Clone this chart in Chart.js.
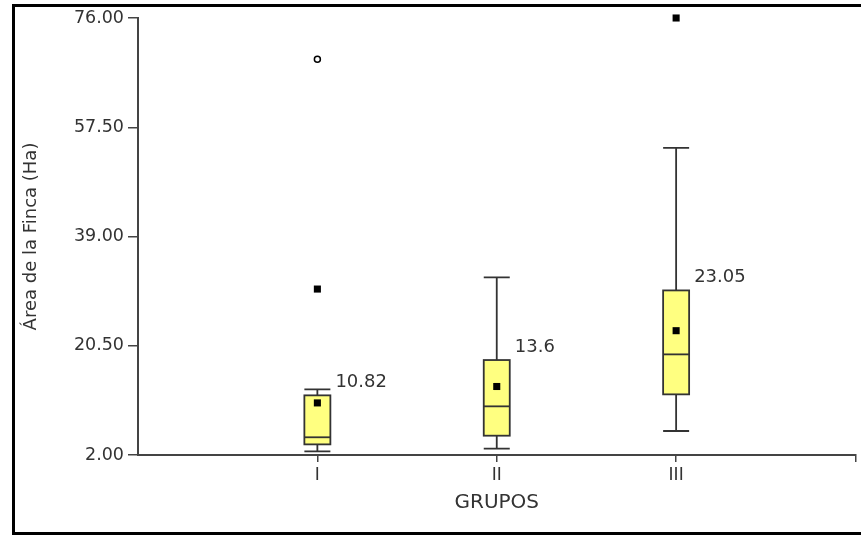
<!DOCTYPE html>
<html>
<head>
<meta charset="utf-8">
<script src="https://cdn.jsdelivr.net/npm/chart.js@4.4.1/dist/chart.umd.min.js"></script>
<style>
  html, body { margin: 0; padding: 0; background: #ffffff; }
  #wrap { width: 861px; height: 535px; position: relative; }
</style>
</head>
<body>
<div id="wrap"><canvas id="c" width="861" height="535"></canvas></div>
<script>
// Farm area (ha) by group: box-plot summaries
const groups = ['I', 'II', 'III'];
const whiskerLow = [2.6, 3.07, 6.06];
const q1 = [3.8, 5.27, 12.27];
const median = [5.0, 10.24, 19.04];
const q3 = [12.1, 18.08, 29.87];
const whiskerHigh = [13.1, 32.07, 54.0];
const means = [10.82, 13.6, 23.05];

// Outliers (square markers) and far-out values (open circles), by group number
const outlierGroup = [1, 3];
const outlierValue = [30.1, 76.0];
const farOutGroup = [1];
const farOutValue = [69.0];

const yTicks = [2, 20.5, 39, 57.5, 76];

const INK = '#333333';
const AXIS = '#444444';
const FONT = 'DejaVu Sans';

// Draws boxes, medians and whiskers through the chart's scales
const boxPlot = {
  id: 'boxPlot',
  beforeDatasetsDraw(chart) {
    const { ctx, scales: { x, y } } = chart;
    const half = 13;
    ctx.save();
    ctx.strokeStyle = INK;
    ctx.lineWidth = 1.8;
    groups.forEach((g, i) => {
      const cx = x.getPixelForValue(i + 1);
      const yLo = y.getPixelForValue(whiskerLow[i]);
      const yQ1 = y.getPixelForValue(q1[i]);
      const yMed = y.getPixelForValue(median[i]);
      const yQ3 = y.getPixelForValue(q3[i]);
      const yHi = y.getPixelForValue(whiskerHigh[i]);
      // whiskers
      ctx.beginPath();
      ctx.moveTo(cx, yLo); ctx.lineTo(cx, yQ1);
      ctx.moveTo(cx, yQ3); ctx.lineTo(cx, yHi);
      ctx.moveTo(cx - half, yLo); ctx.lineTo(cx + half, yLo);
      ctx.moveTo(cx - half, yHi); ctx.lineTo(cx + half, yHi);
      ctx.stroke();
      // box
      ctx.fillStyle = '#ffff80';
      ctx.fillRect(cx - half, yQ3, 2 * half, yQ1 - yQ3);
      ctx.strokeRect(cx - half, yQ3, 2 * half, yQ1 - yQ3);
      // median
      ctx.beginPath();
      ctx.moveTo(cx - half, yMed); ctx.lineTo(cx + half, yMed);
      ctx.stroke();
    });
    ctx.restore();
  },
  afterDatasetsDraw(chart) {
    const { ctx, scales: { x, y } } = chart;
    ctx.save();
    ctx.fillStyle = INK;
    ctx.font = '18px "' + FONT + '"';
    ctx.textAlign = 'left';
    ctx.textBaseline = 'middle';
    groups.forEach((g, i) => {
      const cx = x.getPixelForValue(i + 1);
      ctx.fillText(String(means[i]), cx + 18, y.getPixelForValue(q3[i]) - 13);
    });
    ctx.restore();
  }
};

// Black frame around the figure
const frame = {
  id: 'frame',
  afterDraw(chart) {
    const ctx = chart.ctx;
    ctx.save();
    ctx.strokeStyle = '#000000';
    ctx.lineWidth = 3;
    ctx.strokeRect(13.5, 5.5, 880, 528);
    ctx.restore();
  }
};

new Chart(document.getElementById('c'), {
  type: 'scatter',
  data: {
    datasets: [
      {
        label: 'Media',
        data: means.map((v, i) => ({ x: i + 1, y: v })),
        pointStyle: 'rect',
        pointRadius: 5,
        backgroundColor: '#000000',
        borderColor: '#000000',
        borderWidth: 0,
        clip: false
      },
      {
        label: 'Atípicos',
        data: outlierValue.map((v, i) => ({ x: outlierGroup[i], y: v })),
        pointStyle: 'rect',
        pointRadius: 5,
        backgroundColor: '#000000',
        borderColor: '#000000',
        borderWidth: 0,
        clip: false
      },
      {
        label: 'Extremos',
        data: farOutValue.map((v, i) => ({ x: farOutGroup[i], y: v })),
        pointStyle: 'circle',
        pointRadius: 3,
        backgroundColor: '#ffffff',
        borderColor: '#000000',
        borderWidth: 1.5,
        clip: false
      }
    ]
  },
  options: {
    responsive: false,
    animation: false,
    devicePixelRatio: 1,
    layout: { padding: { left: 0, top: 18, right: 4, bottom: 0 } },
    plugins: { legend: { display: false }, tooltip: { enabled: false } },
    scales: {
      x: {
        type: 'linear',
        position: 'bottom',
        min: 0,
        max: 4,
        afterBuildTicks(scale) { scale.ticks = [1, 2, 3, 4].map(v => ({ value: v })); },
        afterFit(scale) { scale.height = 80; },
        grid: { display: true, drawOnChartArea: false, drawTicks: true, tickLength: 7, color: AXIS, lineWidth: 1.5 },
        border: { display: true, color: AXIS, width: 2 },
        ticks: {
          autoSkip: false,
          maxRotation: 0,
          padding: 3,
          color: INK,
          font: { family: FONT, size: 17 },
          callback: (v) => groups[Math.round(v) - 1] || ''
        },
        title: {
          display: true,
          text: 'GRUPOS',
          color: INK,
          font: { family: FONT, size: 20 },
          padding: { top: 0, bottom: 20 }
        }
      },
      y: {
        type: 'linear',
        position: 'left',
        min: 2,
        max: 76,
        afterBuildTicks(scale) { scale.ticks = yTicks.map(v => ({ value: v })); },
        afterFit(scale) { scale.width = 138; },
        grid: { display: true, drawOnChartArea: false, drawTicks: true, tickLength: 10, color: AXIS, lineWidth: 1.5 },
        border: { display: true, color: AXIS, width: 2 },
        ticks: {
          padding: 4,
          color: INK,
          font: { family: FONT, size: 17.5 },
          callback: (v) => Number(v).toFixed(2)
        },
        title: {
          display: true,
          text: 'Área de la Finca (Ha)',
          color: INK,
          font: { family: FONT, size: 18 },
          padding: { top: 21, bottom: 0 }
        }
      }
    }
  },
  plugins: [boxPlot, frame]
});
</script>
</body>
</html>
